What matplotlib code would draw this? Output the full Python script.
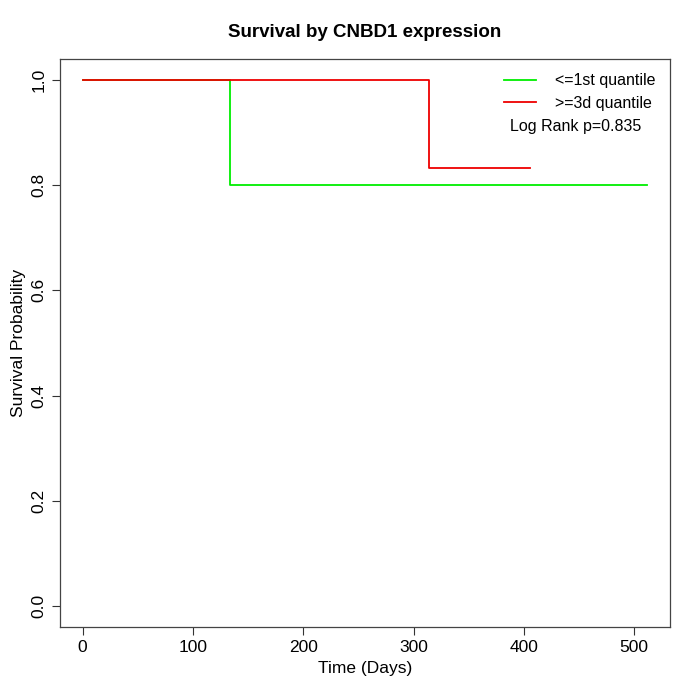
import matplotlib
matplotlib.use('Agg')
import matplotlib.pyplot as plt

plt.rcParams['font.family'] = ['Liberation Sans', 'DejaVu Sans']

# survival curves (time in days, survival probability)
low_times = [0, 134, 512]
low_surv = [1.0, 0.8, 0.8]
high_times = [0, 314, 406]
high_surv = [1.0, 0.8333, 0.8333]

labels = ['<=1st quantile', '>=3d quantile']
colors = ['#00ee00', '#ee0000']
pvalue_text = 'Log Rank p=0.835'

x_ticks = [0, 100, 200, 300, 400, 500]
y_ticks = [0.0, 0.2, 0.4, 0.6, 0.8, 1.0]

fig = plt.figure(figsize=(7, 7), dpi=100)
ax = fig.add_axes([60 / 700, 1 - 627 / 700, 610 / 700, 568 / 700])

ax.step(low_times, low_surv, where='post', color=colors[0], lw=1.3, label=labels[0])
ax.step(high_times, high_surv, where='post', color=colors[1], lw=1.3, label=labels[1])

ax.set_xlim(-20.5, 532.5)
ax.set_ylim(-0.04, 1.04)
ax.set_xticks(x_ticks)
ax.set_yticks(y_ticks)
ax.set_yticklabels(['%.1f' % v for v in y_ticks], rotation=90, va='center')
ax.tick_params(labelsize=12.5, length=6, width=0.8, color='#333333')
for s in ax.spines.values():
    s.set_linewidth(0.9)
    s.set_color('#444444')

ax.set_xlabel('Time (Days)', fontsize=12.5)
ax.set_ylabel('Survival Probability', fontsize=12.5)
ax.set_title('Survival by CNBD1 expression', fontsize=13.5, fontweight='bold', pad=16)

leg = ax.legend(loc='upper right', frameon=False, fontsize=11.5, handlelength=2.0,
                borderaxespad=0.5, labelspacing=0.45, handletextpad=1.2)
ax.text(0.738, 0.882, pvalue_text, transform=ax.transAxes, fontsize=11.5, ha='left', va='center')

fig.savefig('out.png', dpi=100)
